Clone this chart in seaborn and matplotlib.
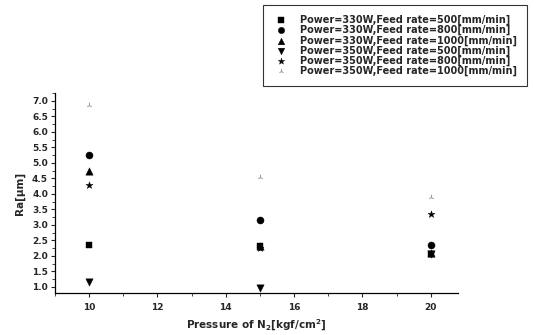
import matplotlib
matplotlib.use("Agg")
import matplotlib.pyplot as plt
import seaborn as sns
import pandas as pd
from matplotlib.ticker import MultipleLocator

sns.set_theme(style="ticks")
plt.rcParams['font.family'] = ['DejaVu Sans']

pressure = [10, 15, 20]
labels = [
    "Power=330W,Feed rate=500[mm/min]",
    "Power=330W,Feed rate=800[mm/min]",
    "Power=330W,Feed rate=1000[mm/min]",
    "Power=350W,Feed rate=500[mm/min]",
    "Power=350W,Feed rate=800[mm/min]",
    "Power=350W,Feed rate=1000[mm/min]",
]
ra_330_500 = [2.35, 2.30, 2.05]
ra_330_800 = [5.25, 3.15, 2.35]
ra_330_1000 = [4.75, 2.30, 2.10]
ra_350_500 = [1.17, 0.97, 2.05]
ra_350_800 = [4.28, 2.25, 3.35]
ra_350_1000 = [6.86, 4.55, 3.90]
series = [ra_330_500, ra_330_800, ra_330_1000, ra_350_500, ra_350_800, ra_350_1000]
markers = ['s', 'o', '^', 'v', '*', '2']
sizes = [20, 26, 28, 28, 28, 16]
colors = ['black', 'black', 'black', 'black', 'black', '#999999']

fig = plt.figure(figsize=(5.34, 3.35), dpi=100)
ax = fig.add_axes([55/534, 1-293/335, (458-55)/534, (293-93)/335])

for lab, vals, m, s, c in zip(labels, series, markers, sizes, colors):
    df = pd.DataFrame({"x": pressure, "y": vals})
    if m == '2':
        sns.scatterplot(data=df, x="x", y="y", marker=m, s=s, color=c,
                        linewidth=0.7, ax=ax, label=lab)
    else:
        sns.scatterplot(data=df, x="x", y="y", marker=m, s=s, color=c,
                        edgecolor=c, linewidth=0.3, ax=ax, label=lab)

ax.set_xlim(9, 20.8)
ax.set_ylim(0.8, 7.25)
ax.xaxis.set_major_locator(MultipleLocator(2))
ax.xaxis.set_minor_locator(MultipleLocator(1))
ax.yaxis.set_major_locator(MultipleLocator(0.5))
ax.yaxis.set_minor_locator(MultipleLocator(0.25))
ax.tick_params(axis='both', which='major', labelsize=6.5, length=3, width=0.8,
               direction='out', pad=2)
ax.tick_params(axis='x', which='major', pad=4)
ax.tick_params(axis='both', which='minor', length=2, width=0.6, direction='out')
for t in ax.get_xticklabels() + ax.get_yticklabels():
    t.set_fontweight('bold')
sns.despine(ax=ax)
for sp in ['left', 'bottom']:
    ax.spines[sp].set_linewidth(0.9)
    ax.spines[sp].set_color('black')

ax.set_xlabel("Pressure of N$_\\mathbf{2}$[kgf/cm$^\\mathbf{2}$]", fontsize=7.5,
              fontweight='bold', labelpad=4)
ax.set_ylabel("Ra[\u03bcm]", fontsize=7.5, fontweight='bold', labelpad=5)

leg = ax.legend(loc='upper left', bbox_to_anchor=(263/534, 1-5/335),
                bbox_transform=fig.transFigure, frameon=True,
                prop={'family': 'DejaVu Sans', 'weight': 'bold', 'size': 7},
                fancybox=False, labelspacing=0.0, handlelength=1.8,
                handletextpad=1.0, borderpad=1.0, borderaxespad=0,
                markerscale=0.9)
leg.get_frame().set_edgecolor('black')
leg.get_frame().set_linewidth(0.8)

fig.savefig("out.png", dpi=100)
